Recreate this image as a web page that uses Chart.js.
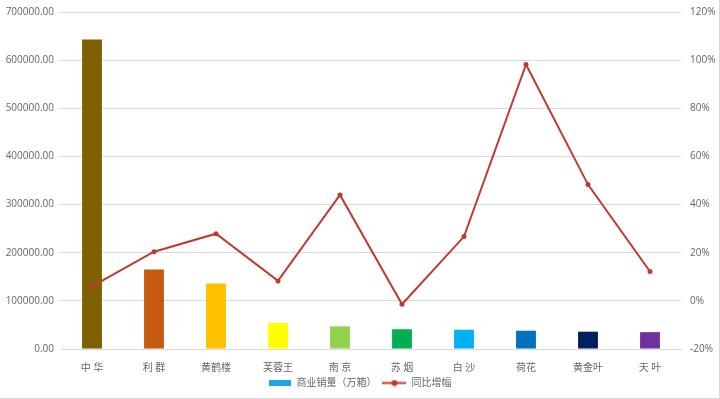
<!DOCTYPE html>
<html>
<head>
<meta charset="utf-8">
<script src="https://cdn.jsdelivr.net/npm/chart.js@4/dist/chart.umd.min.js"></script>
<style>
  html, body { margin: 0; padding: 0; background: #fff; }
  #wrap { position: relative; width: 720px; height: 399px; overflow: hidden; box-sizing: border-box; border-right: 1px solid #d9d9d9; border-bottom: 1px solid #d9d9d9; }
  canvas { display: block; position: absolute; left: 0; top: -3px; }
</style>
</head>
<body>
<div id="wrap"><canvas id="c" width="719" height="401"></canvas></div>
<script>
// Brands along the category axis
const categories = ['中 华', '利 群', '黄鹤楼', '芙蓉王', '南 京', '苏 烟', '白 沙', '荷花', '黄金叶', '天 叶'];
// Commercial sales volume (10k cases), left axis
const salesValues = [643000, 165000, 136000, 54000, 47000, 41000, 40000, 38000, 36000, 35000];
// Year-on-year growth (%), right axis
const growthPercent = [6.0, 20.4, 27.9, 8.3, 44.0, -1.4, 26.7, 98.2, 48.3, 12.2];
// Axis tick values
const leftTicks = [0, 100000, 200000, 300000, 400000, 500000, 600000, 700000];
const rightTicks = [-20, 0, 20, 40, 60, 80, 100, 120];

const barColors = ['#7F6000', '#C55A11', '#FFC000', '#FFFF00', '#92D050', '#00B050', '#00B0F0', '#0070C0', '#002060', '#7030A0'];
const lineColor = '#BE3B2F';
const textColor = '#666666';
const gridColor = '#D9D9D9';
const fontFamily = '"Open Sans", "Noto Sans CJK SC", sans-serif';

// Legend markers: a flat bar swatch and a line with a dot
function barSwatch() {
  const c = document.createElement('canvas');
  c.width = 22; c.height = 6;
  const g = c.getContext('2d');
  g.fillStyle = '#1AA7E0';
  g.fillRect(0, 0, 22, 6);
  return c;
}
function lineSwatch() {
  const c = document.createElement('canvas');
  c.width = 24; c.height = 7;
  const g = c.getContext('2d');
  g.strokeStyle = lineColor; g.lineWidth = 2;
  g.beginPath(); g.moveTo(0, 3.5); g.lineTo(24, 3.5); g.stroke();
  g.fillStyle = lineColor;
  g.beginPath(); g.arc(12, 3.5, 3, 0, Math.PI * 2); g.fill();
  return c;
}

new Chart(document.getElementById('c'), {
  data: {
    labels: categories,
    datasets: [
      {
        type: 'line',
        label: '同比增幅',
        data: growthPercent,
        yAxisID: 'yRight',
        borderColor: lineColor,
        backgroundColor: lineColor,
        borderWidth: 2,
        pointRadius: 2.5,
        pointBackgroundColor: lineColor,
        pointBorderWidth: 0,
        tension: 0,
        order: 0
      },
      {
        type: 'bar',
        label: '商业销量（万箱）',
        data: salesValues,
        yAxisID: 'yLeft',
        backgroundColor: barColors,
        borderWidth: 0,
        categoryPercentage: 1,
        barPercentage: 0.32,
        order: 1
      }
    ]
  },
  options: {
    responsive: false,
    animation: false,
    layout: { padding: { top: 0, left: 4, right: 4, bottom: 0 } },
    plugins: {
      tooltip: { enabled: false },
      legend: {
        position: 'bottom',
        labels: {
          usePointStyle: true,
          pointStyleWidth: 24,
          boxHeight: 7,
          padding: 6,
          color: textColor,
          font: { family: fontFamily, size: 10 },
          generateLabels: (chart) => [
            { text: '商业销量（万箱）', datasetIndex: 1, pointStyle: barSwatch(), fontColor: textColor, lineWidth: 0, hidden: false },
            { text: '同比增幅', datasetIndex: 0, pointStyle: lineSwatch(), fontColor: textColor, lineWidth: 0, hidden: false }
          ]
        }
      }
    },
    scales: {
      x: {
        grid: { display: false },
        border: { display: true, color: gridColor },
        ticks: { color: textColor, font: { family: fontFamily, size: 10 }, padding: 5, maxRotation: 0 },
        afterFit: (s) => { s.height = 23; }
      },
      yLeft: {
        position: 'left',
        min: 0, max: 700000,
        afterBuildTicks: (s) => { s.ticks = leftTicks.map(v => ({ value: v })); },
        grid: { color: gridColor, lineWidth: 1, drawTicks: false },
        border: { display: false },
        ticks: { color: textColor, font: { family: fontFamily, size: 10 }, padding: 7, callback: (v) => Number(v).toFixed(2) },
        afterFit: (s) => { s.width = 57; }
      },
      yRight: {
        position: 'right',
        min: -20, max: 120,
        afterBuildTicks: (s) => { s.ticks = rightTicks.map(v => ({ value: v })); },
        grid: { display: false, drawTicks: false },
        border: { display: false },
        ticks: { color: textColor, font: { family: fontFamily, size: 10 }, padding: 9, callback: (v) => v + '%' },
        afterFit: (s) => { s.width = 34; }
      }
    }
  }
});
</script>
</body>
</html>
